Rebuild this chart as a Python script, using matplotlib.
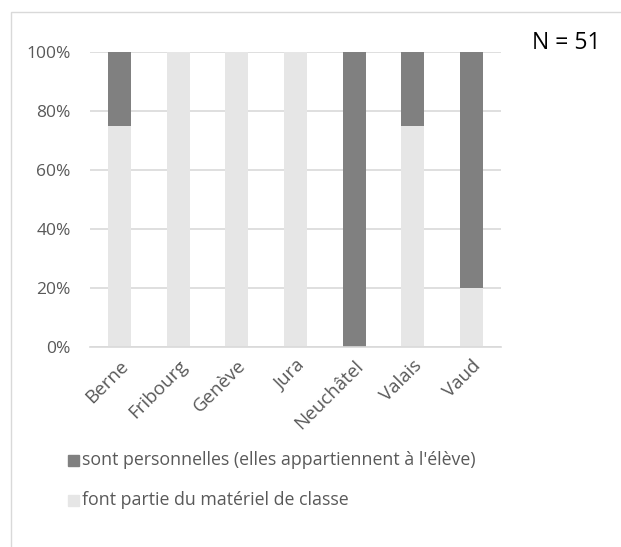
import numpy as np
import matplotlib.pyplot as plt
from matplotlib.patches import Rectangle

# data
cantons = ['Berne', 'Fribourg', 'Genève', 'Jura', 'Neuchâtel', 'Valais', 'Vaud']
classe = [75, 100, 100, 100, 0, 75, 20]
perso = [25, 0, 0, 0, 100, 25, 80]
label_perso = "sont personnelles (elles appartiennent à l'élève)"
label_classe = "font partie du matériel de classe"
y_ticks = [0, 20, 40, 60, 80, 100]

plt.rcParams['font.family'] = ['Open Sans', 'DejaVu Sans']

W, H = 621, 547
fig = plt.figure(figsize=(W / 100, H / 100), dpi=100)
ax = fig.add_axes([90 / W, 1 - 347 / H, 411 / W, 295 / H])

# outer chart border (left/top visible only)
fig.patches.append(Rectangle((11 / W, -0.1), 1.2, 1 - 12 / H + 0.1,
                             transform=fig.transFigure, fill=False,
                             edgecolor='#d9d9d9', lw=1))

x = np.arange(len(cantons))
ax.bar(x, classe, width=0.39, color='#e6e6e6', zorder=2)
ax.bar(x, perso, width=0.39, bottom=classe, color='#808080', zorder=2)

ax.set_xlim(-0.5, len(cantons) - 0.5)
ax.set_ylim(0, 100)
ax.set_yticks(y_ticks)
ax.set_yticklabels([f'{v}%' for v in y_ticks])
ax.yaxis.grid(True, color='#d9d9d9', lw=1.2, zorder=0)
ax.set_axisbelow(True)
for s in ['top', 'right', 'left']:
    ax.spines[s].set_visible(False)
ax.spines['bottom'].set_color('#d9d9d9')
ax.spines['bottom'].set_linewidth(1.2)
ax.tick_params(axis='both', length=0, colors='#595959', labelsize=12.5)
ax.tick_params(axis='y', pad=14)
ax.set_xticks(x)
ax.set_xticklabels(cantons, rotation=45, ha='right', rotation_mode='anchor',
                   fontsize=13.5)
ax.tick_params(axis='x', pad=7)

fig.text(601 / W, 1 - 43 / H, 'N = 51', ha='right', va='center',
         fontsize=16.5, color='black')

# legend
for i, (lab, col) in enumerate([(label_perso, '#808080'), (label_classe, '#e6e6e6')]):
    yy = 1 - (460 + i * 40) / H
    fig.patches.append(Rectangle((68 / W, yy - 5.5 / H), 11 / W, 11 / H,
                                 transform=fig.transFigure, color=col))
    fig.text(82 / W, yy, lab, ha='left', va='center', fontsize=12.8,
             color='#595959')

plt.savefig('out.png', dpi=100)
